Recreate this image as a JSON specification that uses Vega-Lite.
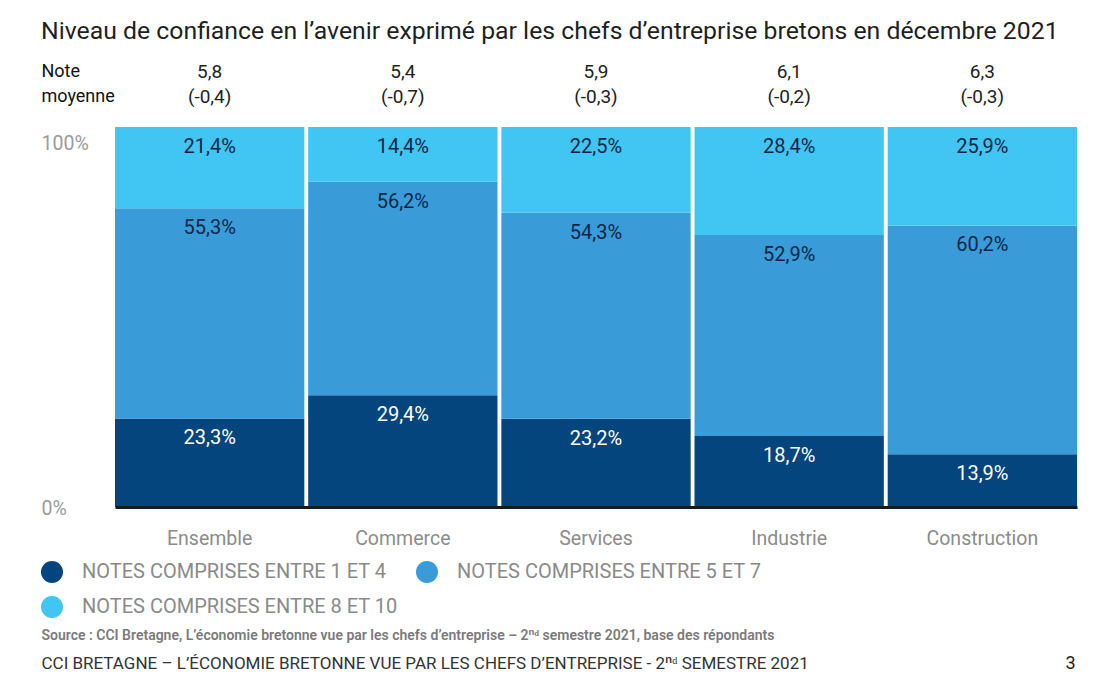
{
  "$schema": "https://vega.github.io/schema/vega-lite/v6.json",
  "width": 962,
  "height": 380,
  "autosize": {"type": "none"},
  "padding": {"left": 115, "top": 127, "right": 31, "bottom": 188},
  "background": "white",
  "config": {"view": {"stroke": null}, "font": "Roboto"},
  "title": {
    "text": "Niveau de confiance en l’avenir exprimé par les chefs d’entreprise bretons en décembre 2021",
    "anchor": "start", "frame": "group", "dx": -74, "offset": 18,
    "fontSize": 24.8, "font": "Roboto", "fontWeight": "normal", "color": "#1f1f1f"
  },
  "data": {
    "values": [
      {"secteur": "Ensemble", "note": "5,8", "ecart": "(-0,4)", "classe": "NOTES COMPRISES ENTRE 1 ET 4", "ord": 1, "part": 23.3},
      {"secteur": "Ensemble", "note": "5,8", "ecart": "(-0,4)", "classe": "NOTES COMPRISES ENTRE 5 ET 7", "ord": 2, "part": 55.3},
      {"secteur": "Ensemble", "note": "5,8", "ecart": "(-0,4)", "classe": "NOTES COMPRISES ENTRE 8 ET 10", "ord": 3, "part": 21.4},
      {"secteur": "Commerce", "note": "5,4", "ecart": "(-0,7)", "classe": "NOTES COMPRISES ENTRE 1 ET 4", "ord": 1, "part": 29.4},
      {"secteur": "Commerce", "note": "5,4", "ecart": "(-0,7)", "classe": "NOTES COMPRISES ENTRE 5 ET 7", "ord": 2, "part": 56.2},
      {"secteur": "Commerce", "note": "5,4", "ecart": "(-0,7)", "classe": "NOTES COMPRISES ENTRE 8 ET 10", "ord": 3, "part": 14.4},
      {"secteur": "Services", "note": "5,9", "ecart": "(-0,3)", "classe": "NOTES COMPRISES ENTRE 1 ET 4", "ord": 1, "part": 23.2},
      {"secteur": "Services", "note": "5,9", "ecart": "(-0,3)", "classe": "NOTES COMPRISES ENTRE 5 ET 7", "ord": 2, "part": 54.3},
      {"secteur": "Services", "note": "5,9", "ecart": "(-0,3)", "classe": "NOTES COMPRISES ENTRE 8 ET 10", "ord": 3, "part": 22.5},
      {"secteur": "Industrie", "note": "6,1", "ecart": "(-0,2)", "classe": "NOTES COMPRISES ENTRE 1 ET 4", "ord": 1, "part": 18.7},
      {"secteur": "Industrie", "note": "6,1", "ecart": "(-0,2)", "classe": "NOTES COMPRISES ENTRE 5 ET 7", "ord": 2, "part": 52.9},
      {"secteur": "Industrie", "note": "6,1", "ecart": "(-0,2)", "classe": "NOTES COMPRISES ENTRE 8 ET 10", "ord": 3, "part": 28.4},
      {"secteur": "Construction", "note": "6,3", "ecart": "(-0,3)", "classe": "NOTES COMPRISES ENTRE 1 ET 4", "ord": 1, "part": 13.9},
      {"secteur": "Construction", "note": "6,3", "ecart": "(-0,3)", "classe": "NOTES COMPRISES ENTRE 5 ET 7", "ord": 2, "part": 60.2},
      {"secteur": "Construction", "note": "6,3", "ecart": "(-0,3)", "classe": "NOTES COMPRISES ENTRE 8 ET 10", "ord": 3, "part": 25.9}
    ]
  },
  "transform": [
    {"calculate": "datum.secteur + '|' + datum.note + '|' + datum.ecart", "as": "key"},
    {"calculate": "replace(format(datum.part, '.1f'), '.', ',') + '%'", "as": "lbl"},
    {"stack": "part", "groupby": ["key"], "sort": [{"field": "ord", "order": "ascending"}], "offset": "normalize", "as": ["y0", "y1"]}
  ],
  "resolve": {"axis": {"x": "independent", "y": "independent"}},
  "layer": [
    {
      "mark": {"type": "bar"},
      "encoding": {
        "x": {
          "field": "key", "type": "nominal", "sort": null,
          "scale": {"paddingInner": 0.02, "paddingOuter": 0},
          "axis": {
            "orient": "bottom", "labelExpr": "split(datum.label, '|')[0]", "labelAngle": 0,
            "labelFontSize": 19.5, "labelColor": "#8c8c8c", "labelPadding": 22, "labelFont": "Roboto",
            "ticks": false, "domainColor": "#1a1a1a", "domainWidth": 3, "zindex": 1,
            "title": "Source : CCI Bretagne, L’économie bretonne vue par les chefs d’entreprise – 2ⁿᵈ semestre 2021,  base des répondants",
            "titleX": -74, "titleY": 128, "titleAlign": "left", "titleBaseline": "middle", "titleAnchor": "start",
            "titleFontSize": 14, "titleFontWeight": 600, "titleColor": "#7a7a7a", "titleFont": "Roboto"
          }
        },
        "y": {
          "field": "y0", "type": "quantitative",
          "scale": {"domain": [0, 1], "nice": false},
          "axis": {
            "values": [0, 1], "format": ".0%", "labelAlign": "left", "labelPadding": 74,
            "ticks": false, "domain": false, "grid": false,
            "labelFontSize": 19.5, "labelColor": "#9a9a9a", "labelBaseline": "middle",
            "labelOffset": {"condition": {"test": "datum.value == 1", "value": 16}, "value": 1},
            "title": "CCI BRETAGNE – L’ÉCONOMIE BRETONNE VUE PAR LES CHEFS D’ENTREPRISE - 2ⁿᵈ SEMESTRE 2021",
            "titleAngle": 0, "titleX": -74, "titleY": 536, "titleAlign": "left", "titleBaseline": "middle",
            "titleFontSize": 17, "titleFontWeight": "normal", "titleColor": "#333333", "titleFont": "Roboto"
          }
        },
        "y2": {"field": "y1"},
        "color": {
          "field": "classe", "type": "nominal",
          "scale": {
            "domain": ["NOTES COMPRISES ENTRE 1 ET 4", "NOTES COMPRISES ENTRE 5 ET 7", "NOTES COMPRISES ENTRE 8 ET 10"],
            "range": ["#03457c", "#3a9bd9", "#41c5f2"]
          },
          "legend": {
            "orient": "none", "legendX": -74, "legendY": 434, "columns": 2, "direction": "horizontal", "title": null,
            "symbolType": "circle", "symbolSize": 484, "symbolStrokeWidth": 0,
            "labelFontSize": 20, "labelColor": "#8a8a8a", "labelFont": "Roboto", "labelOffset": 19,
            "columnPadding": 18, "rowPadding": 13, "labelLimit": 600
          }
        }
      }
    },
    {
      "mark": {"type": "text", "dy": 20, "fontSize": 20, "baseline": "middle", "fontWeight": "normal", "font": "Roboto"},
      "encoding": {
        "x": {
          "field": "key", "type": "nominal", "sort": null,
          "axis": {
            "orient": "top",
            "labelExpr": "[split(datum.label, '|')[1], split(datum.label, '|')[2]]",
            "labelAngle": 0, "labelBaseline": "top", "labelPadding": 65, "labelLineHeight": 25,
            "labelFontSize": 19, "labelColor": "#222222", "labelFont": "Roboto",
            "domain": false, "ticks": false,
            "title": ["Note", "moyenne"], "titleX": -74, "titleY": -65, "titleAlign": "left",
            "titleBaseline": "top", "titleLineHeight": 25, "titleAngle": 0,
            "titleFontSize": 18, "titleFontWeight": "normal", "titleColor": "#111111", "titleFont": "Roboto"
          }
        },
        "y": {
          "field": "y1", "type": "quantitative",
          "axis": {
            "orient": "right", "labels": false, "ticks": false, "domain": false, "grid": false,
            "title": "3", "titleAngle": 0, "titleX": -7, "titleY": 536, "titleAlign": "center",
            "titleBaseline": "middle", "titleFontSize": 18, "titleFontWeight": "normal", "titleColor": "#222222"
          }
        },
        "text": {"field": "lbl"},
        "color": {"condition": {"test": "datum.ord == 1", "value": "#ffffff"}, "value": "#0d2846"}
      }
    }
  ]
}
